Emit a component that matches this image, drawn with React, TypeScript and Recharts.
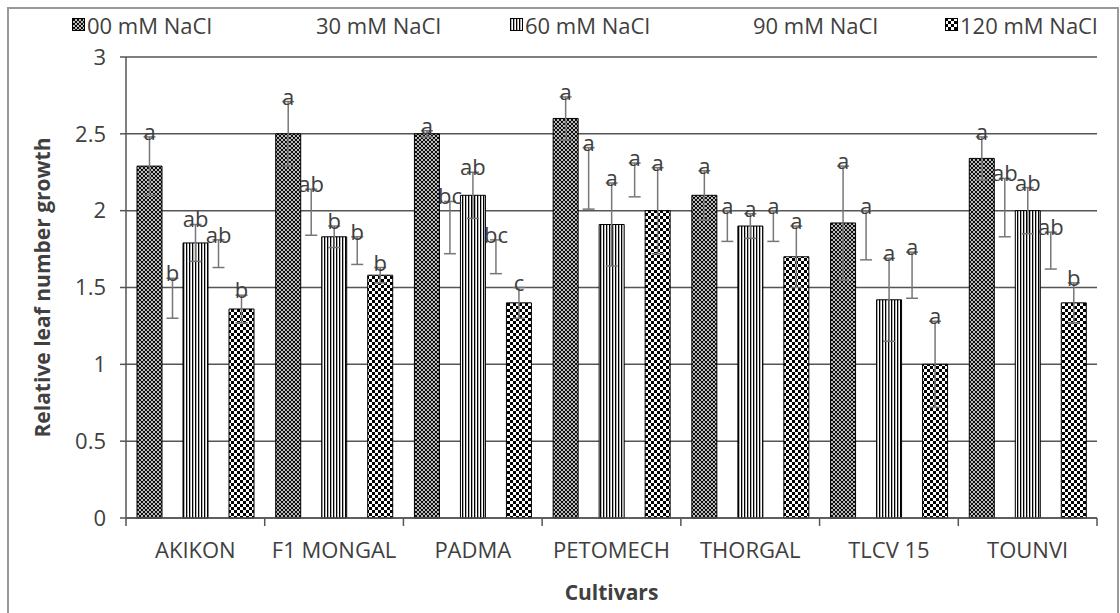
import React from "react";
import {
  BarChart,
  Bar,
  XAxis,
  YAxis,
  CartesianGrid,
  ErrorBar,
  LabelList,
  Label,
} from "recharts";

const cultivars = ["AKIKON", "F1 MONGAL", "PADMA", "PETOMECH", "THORGAL", "TLCV 15", "TOUNVI"];

// means, error half-widths and significance letters per NaCl level
const v00 = [2.29, 2.5, 2.5, 2.6, 2.1, 1.92, 2.34];
const e00 = [0.19, 0.21, 0.02, 0.14, 0.16, 0.37, 0.14];
const l00 = ["a", "a", "a", "a", "a", "a", "a"];

const v30 = [1.43, 1.99, 1.89, 2.21, 1.9, 1.84, 2.02];
const e30 = [0.13, 0.15, 0.17, 0.2, 0.1, 0.16, 0.19];
const l30 = ["b", "ab", "bc", "a", "a", "a", "ab"];

const v60 = [1.79, 1.83, 2.1, 1.91, 1.9, 1.42, 2.0];
const e60 = [0.12, 0.07, 0.15, 0.27, 0.08, 0.27, 0.15];
const l60 = ["ab", "b", "ab", "a", "a", "a", "ab"];

const v90 = [1.72, 1.74, 1.7, 2.2, 1.9, 1.58, 1.74];
const e90 = [0.09, 0.09, 0.11, 0.11, 0.1, 0.15, 0.12];
const l90 = ["ab", "b", "bc", "a", "a", "a", "ab"];

const v120 = [1.36, 1.58, 1.4, 2.0, 1.7, 1.0, 1.4];
const e120 = [0.09, 0.05, 0.1, 0.28, 0.2, 0.28, 0.13];
const l120 = ["b", "b", "c", "a", "a", "a", "b"];

const yTicks = [0, 0.5, 1, 1.5, 2, 2.5, 3];

const FONT = "'Open Sans', sans-serif";
const TEXT = "#404040";
const LINE = "#555";

const series = [
  { key: "s00", err: "e00", name: "00 mM NaCl", values: v00, letters: l00, fill: "url(#p00)", visible: true },
  { key: "s30", err: "e30", name: "30 mM NaCl", values: v30, letters: l30, fill: "transparent", visible: false },
  { key: "s60", err: "e60", name: "60 mM NaCl", values: v60, letters: l60, fill: "url(#p60)", visible: true },
  { key: "s90", err: "e90", name: "90 mM NaCl", values: v90, letters: l90, fill: "transparent", visible: false },
  { key: "s120", err: "e120", name: "120 mM NaCl", values: v120, letters: l120, fill: "url(#p120)", visible: true },
];
const errs: Record<string, number[]> = { e00, e30, e60, e90, e120 };

const rows = cultivars.map((c, i) => ({
  cultivar: c,
  idx: i,
  s00: v00[i],
  e00: e00[i],
  s30: v30[i],
  e30: e30[i],
  s60: v60[i],
  e60: e60[i],
  s90: v90[i],
  e90: e90[i],
  s120: v120[i],
  e120: e120[i],
}));

// legend x positions (icon left edges)
const legendLeft = [72, 301, 510, 738, 945];

function letterLabel(values: number[], errors: number[], letters: string[]) {
  return (props: any) => {
    const vb = props.viewBox ?? props;
    const i = Number(props.value);
    const { x, y, width, height } = vb;
    if (x == null || !values[i]) return null;
    const pxPerUnit = height / values[i];
    const top = y - errors[i] * pxPerUnit;
    return (
      <text
        x={x + width / 2}
        y={top + 3}
        textAnchor="middle"
        fill={TEXT}
        style={{ fontFamily: FONT, fontSize: 22 }}
      >
        {letters[i]}
      </text>
    );
  };
}

function CatTick(props: any) {
  const { x, y, payload, index, visibleTicksCount, width } = props;
  const half =
    width && visibleTicksCount ? width / visibleTicksCount / 2 : payload?.offset ?? 0;
  const axisY = y - 12 - 8;
  return (
    <g>
      <line x1={x - half} x2={x - half} y1={axisY} y2={axisY + 8} stroke={LINE} strokeWidth={1.5} />
      {index === visibleTicksCount - 1 && (
        <line x1={x + half} x2={x + half} y1={axisY} y2={axisY + 8} stroke={LINE} strokeWidth={1.5} />
      )}
      <text x={x} y={y + 20} textAnchor="middle" fill={TEXT} style={{ fontFamily: FONT, fontSize: 22 }}>
        {payload.value}
      </text>
    </g>
  );
}

export default function App() {
  return (
    <div
      style={{
        position: "absolute",
        left: 0,
        top: 0,
        width: 1120,
        height: 613,
        overflow: "hidden",
        background: "#fff",
        fontFamily: FONT,
      }}
    >
      <div
        style={{
          position: "absolute",
          left: 7,
          top: 7,
          width: 1108,
          height: 700,
          border: "2px solid #999",
        }}
      />
      {series.map((s, i) => (
        <div
          key={s.key}
          style={{
            position: "absolute",
            left: legendLeft[i],
            top: 12,
            display: "flex",
            alignItems: "center",
            fontSize: 22,
            lineHeight: "26px",
            color: TEXT,
            whiteSpace: "nowrap",
          }}
        >
          <svg width={14} height={14} style={{ marginRight: 1 }}>
            {s.visible && <rect x={0.5} y={0.5} width={12} height={12} fill={s.fill} stroke="#000" />}
          </svg>
          <span>{s.name}</span>
        </div>
      ))}
      <div style={{ position: "absolute", left: 0, top: 0 }}>
        <BarChart
          width={1120}
          height={613}
          data={rows}
          margin={{ top: 57, right: 23, bottom: 0, left: 26 }}
          barSize={25}
          barGap={-2}
        >
          <defs>
            <pattern id="p00" width="4" height="4" patternUnits="userSpaceOnUse">
              <rect width="4" height="4" fill="#fff" />
              <path d="M0,0 L4,4 M4,0 L0,4 M-1,1 L1,-1 M3,5 L5,3 M-1,3 L1,5 M3,-1 L5,1" stroke="#000" strokeWidth="1.05" />
            </pattern>
            <pattern id="p60" width="3" height="3" patternUnits="userSpaceOnUse">
              <rect width="3" height="3" fill="#fff" />
              <rect width="1.3" height="3" fill="#000" />
            </pattern>
            <pattern id="p120" width="6" height="6" patternUnits="userSpaceOnUse">
              <rect width="6" height="6" fill="#fff" />
              <rect width="3" height="3" fill="#000" />
              <rect x="3" y="3" width="3" height="3" fill="#000" />
            </pattern>
          </defs>
          <CartesianGrid vertical={false} stroke={LINE} strokeWidth={1.5} />
          <XAxis
            dataKey="cultivar"
            height={95}
            interval={0}
            tickLine={false}
            tickSize={8}
            tickMargin={12}
            axisLine={{ stroke: LINE, strokeWidth: 1.5 }}
            tick={<CatTick />}
          >
            <Label
              content={(p: any) => {
                const vb = p.viewBox;
                return (
                  <text
                    x={vb.x + vb.width / 2}
                    y={vb.y + 82}
                    textAnchor="middle"
                    fill={TEXT}
                    style={{ fontFamily: FONT, fontSize: 21, fontWeight: 700 }}
                  >
                    Cultivars
                  </text>
                );
              }}
            />
          </XAxis>
          <YAxis
            width={100}
            domain={[0, 3]}
            ticks={yTicks}
            tickSize={6}
            tickMargin={14}
            tickLine={{ stroke: LINE, strokeWidth: 1.5 }}
            axisLine={{ stroke: LINE, strokeWidth: 1.5 }}
            tick={{ fill: TEXT, fontSize: 22, fontFamily: FONT }}
          >
            <Label
              content={(p: any) => {
                const vb = p.viewBox;
                const cx = vb.x + 16;
                const cy = vb.y + vb.height / 2;
                return (
                  <text
                    x={cx}
                    y={cy}
                    transform={`rotate(-90, ${cx}, ${cy})`}
                    textAnchor="middle"
                    dominantBaseline="central"
                    fill={TEXT}
                    style={{ fontFamily: FONT, fontSize: 21, fontWeight: 700 }}
                  >
                    Relative leaf number growth
                  </text>
                );
              }}
            />
          </YAxis>
          <YAxis
            yAxisId="right"
            orientation="right"
            width={0}
            domain={[0, 3]}
            tick={false}
            tickLine={false}
            axisLine={{ stroke: LINE, strokeWidth: 1.5 }}
          />
          {series.map((s) => (
            <Bar
              key={s.key}
              dataKey={s.key}
              name={s.name}
              fill={s.fill}
              stroke={s.visible ? "#000" : "none"}
              strokeWidth={1}
              isAnimationActive={false}
            >
              <ErrorBar dataKey={s.err} width={6} stroke="#777" strokeWidth={1.5} isAnimationActive={false} />
              <LabelList dataKey="idx" content={letterLabel(s.values, errs[s.err], s.letters)} />
            </Bar>
          ))}
        </BarChart>
      </div>
    </div>
  );
}
